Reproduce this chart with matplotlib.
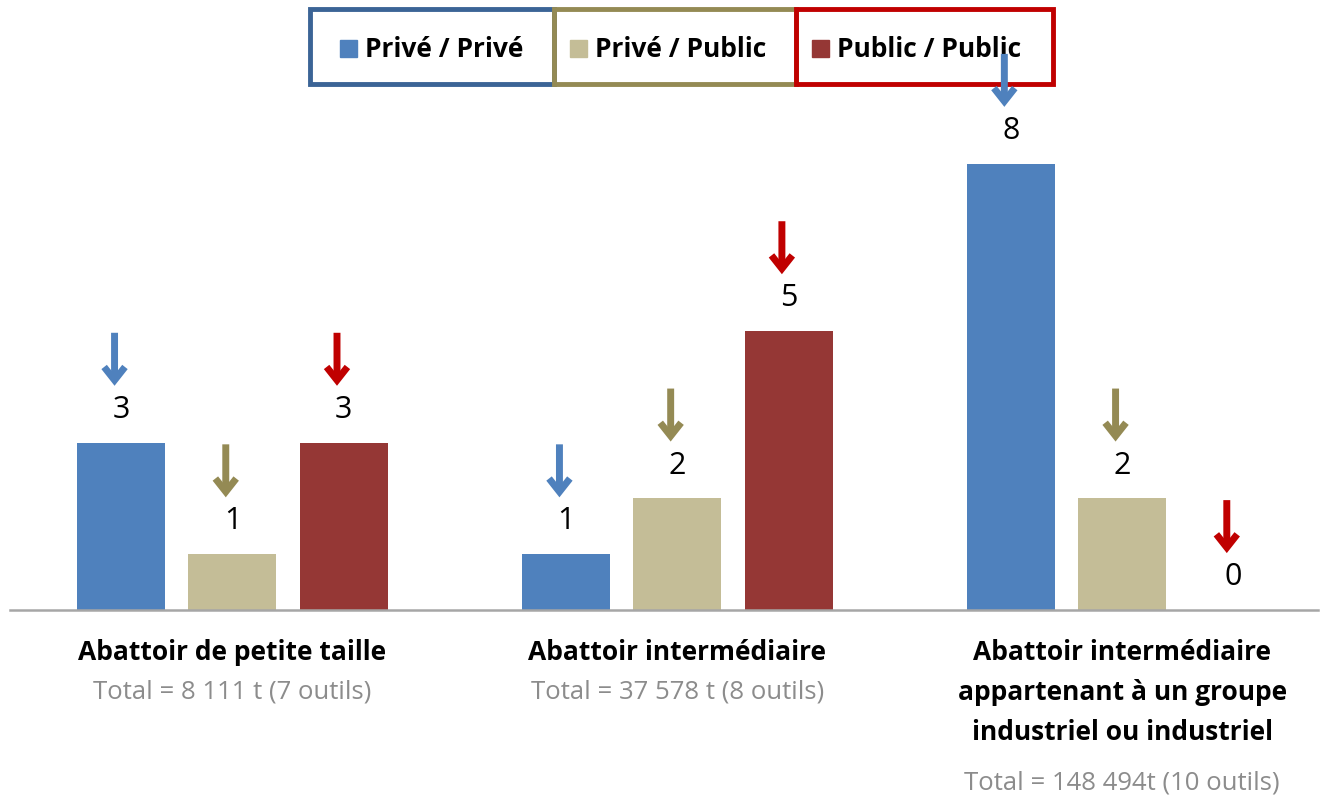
import matplotlib
matplotlib.use('Agg')
import matplotlib.pyplot as plt
from matplotlib.patches import Rectangle
import numpy as np

### Data

categories = ['Abattoir de petite taille',
              'Abattoir intermédiaire',
              'Abattoir intermédiaire\nappartenant à un groupe\nindustriel ou industriel']
totals = ['Total = 8 111 t (7 outils)',
          'Total = 37 578 t (8 outils)',
          'Total = 148 494t (10 outils)']
series = ['Privé / Privé', 'Privé / Public', 'Public / Public']
prive_prive = [3, 1, 8]
prive_public = [1, 2, 2]
public_public = [3, 5, 0]

bar_colors = ['#4F81BD', '#C4BD97', '#953735']
arrow_colors = ['#4F81BD', '#948A54', '#C00000']
box_colors = ['#3B6496', '#948A54', '#C00000']

plt.rcParams['font.family'] = ['Open Sans', 'DejaVu Sans']

W, H = 1328, 797
fig = plt.figure(figsize=(W / 100, H / 100), dpi=100)

# main axes, baseline at y=610 px
ax = fig.add_axes([10 / W, (H - 610) / H, 1308 / W, 502 / H])
ax.set_zorder(2)
ax.patch.set_visible(False)
ax.set_xlim(-0.5, 2.44)
ax.set_ylim(0, 9)
for s in ['top', 'right', 'left']:
    ax.spines[s].set_visible(False)
ax.spines['bottom'].set_color('#A6A6A6')
ax.spines['bottom'].set_linewidth(1.8)
ax.set_xticks([])
ax.set_yticks([])

x = np.arange(len(categories))
width = 0.198
offsets = [-0.25, 0, 0.25]
values = [prive_prive, prive_public, public_public]

for k in range(3):
    xs = x + offsets[k]
    ax.bar(xs, values[k], width, color=bar_colors[k])
    for xi, v in zip(xs, values[k]):
        ax.text(xi, v + 0.59, str(v), ha='center', va='center', fontsize=22)
        ax.annotate('', xy=(xi - 0.015, v + 1.02), xytext=(xi - 0.015, v + 1.97),
                    arrowprops=dict(arrowstyle='->,head_length=0.95,head_width=0.75',
                                    color=arrow_colors[k], lw=5,
                                    shrinkA=0, shrinkB=0, capstyle='butt',
                                    joinstyle='miter'),
                    annotation_clip=False)

# category labels
for i, (c, t) in enumerate(zip(categories, totals)):
    ax.annotate(c, xy=(i, 0), xycoords=('data', 'axes fraction'),
                xytext=(0, -29 * 0.72), textcoords='offset points',
                ha='center', va='top', fontsize=19, fontweight='bold',
                linespacing=1.62, annotation_clip=False)
    dy = 82 if '\n' not in c else 173
    ax.annotate(t, xy=(i, 0), xycoords=('data', 'axes fraction'),
                xytext=(0, -dy * 0.72), textcoords='offset points',
                ha='center', va='center', fontsize=18.5, color='#8C8C8C',
                annotation_clip=False)

# legend boxes drawn on an overlay in pixel units
lg = fig.add_axes([0, 0, 1, 1])
lg.set_zorder(1)
lg.set_xlim(0, W)
lg.set_ylim(H, 0)
lg.axis('off')
box_edges = [310, 554, 796, 1053]
square_pad = [30, 16, 16]
for k in range(3):
    x0, x1 = box_edges[k], box_edges[k + 1]
    lg.add_patch(Rectangle((x0, 9), x1 - x0, 75, fill=False,
                           edgecolor=box_colors[k], lw=3.5))
    sx = x0 + square_pad[k]
    lg.add_patch(Rectangle((sx, 40), 17, 17, color=bar_colors[k]))
    lg.text(sx + 25, 49, series[k], ha='left', va='center', fontsize=19,
            fontweight='bold')

fig.savefig('out.png', dpi=100)
